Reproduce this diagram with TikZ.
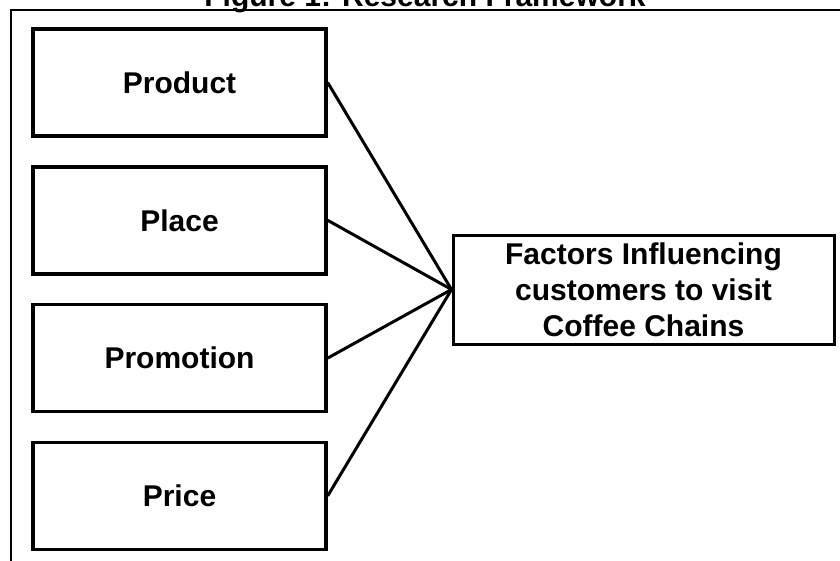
\documentclass[tikz,border=0pt]{standalone}
\usepackage{fontspec}
\setmainfont{Liberation Sans}
\begin{document}
\begin{tikzpicture}[x=1pt,y=-1pt,
  every node/.style={font=\bfseries\fontsize{30}{36}\selectfont},
  factorbox/.style={draw=black, line width=3.4pt, rectangle, minimum width=293pt, minimum height=107pt, inner sep=0pt},
  outcomebox/.style={draw=black, line width=3pt, rectangle, minimum width=381pt, minimum height=109pt, inner sep=0pt, align=center},
  link/.style={draw=black, line width=3pt}]
  % page extent and clipping
  \useasboundingbox (0,0) rectangle (840,560);
  \clip (0,0) rectangle (840,560);
  \fill[white] (0,0) rectangle (840,560);
  % heading and surrounding frame
  \node[anchor=base] (title) at (425,6) {Figure 1: Research Framework};
  \draw[line width=2.4pt] (11,10) rectangle (900,620);
  % the four marketing-mix factors
  \node[factorbox] (product) at (179.5,82.5) {Product};
  \node[factorbox] (place) at (179.5,220.3) {Place};
  \node[factorbox] (promotion) at (179.5,358.1) {Promotion};
  \node[factorbox] (price) at (179.5,495.9) {Price};
  % outcome
  \node[outcomebox] (outcome) at (643.5,289.5) {Factors Influencing\\customers to visit\\Coffee Chains};
  % connectors
  \foreach \n in {product,place,promotion,price}
    \draw[link] (\n.east) -- (outcome.west);
\end{tikzpicture}
\end{document}
